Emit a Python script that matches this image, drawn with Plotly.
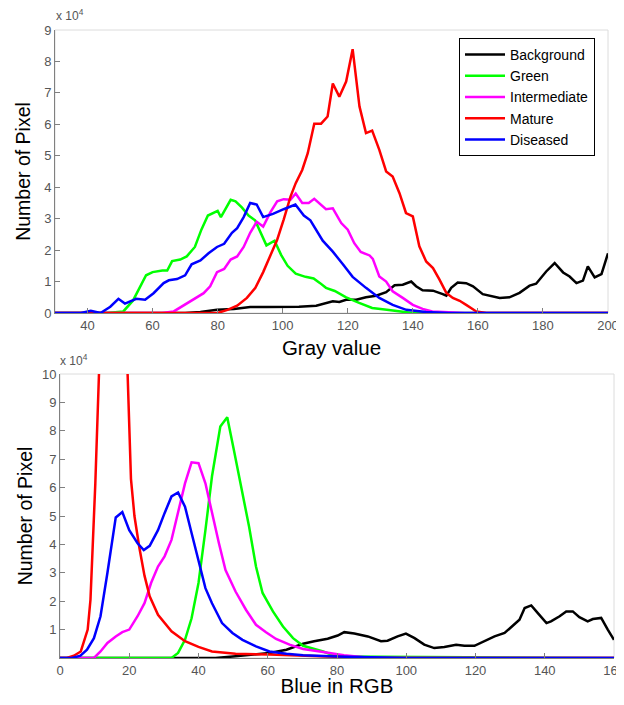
import plotly.graph_objects as go

# ---------------- Top panel: Gray value histograms (counts in units of 1e4) -------------
bg_x = [30, 70, 74.7, 79.8, 85, 90, 95, 100, 105, 110.3, 113.3, 115.4, 117.4, 119.5, 122.6, 125.6,
        128.7, 131.8, 134.4, 136.9, 139.5, 141, 143, 146.2, 149.2, 150.3, 151.8, 153.8, 156.4, 158.5,
        161.5, 164.6, 166.7, 169.7, 172.8, 175.9, 177.9, 181, 183.6, 186.2, 188.2, 190.3, 192.3,
        193.8, 195.9, 198, 200]
bg_y = [0, 0, 0.03, 0.1, 0.13, 0.19, 0.19, 0.19, 0.2, 0.23, 0.3, 0.37, 0.35, 0.42, 0.42, 0.5,
        0.55, 0.66, 0.88, 0.9, 1.0, 0.85, 0.72, 0.71, 0.6, 0.55, 0.8, 0.97, 0.95, 0.85,
        0.6, 0.53, 0.48, 0.5, 0.64, 0.87, 0.93, 1.32, 1.59, 1.29, 1.16, 0.95, 1.03,
        1.48, 1.13, 1.24, 1.9]

green_x = [30, 46, 51, 54, 58, 60, 63, 64.5, 66, 68.5, 70.5, 73, 75, 77, 80, 81, 84, 85.5, 87.5,
           89.5, 91.5, 95, 97.5, 99.5, 101.5, 104, 107, 109.5, 111.5, 113.3, 116, 119.5, 123.5,
           127.5, 132, 136, 140, 200]
green_y = [0, 0, 0.05, 0.4, 1.2, 1.3, 1.35, 1.35, 1.65, 1.7, 1.8, 2.1, 2.65, 3.1, 3.25, 3.05, 3.6,
           3.55, 3.35, 3.1, 2.95, 2.15, 2.3, 1.85, 1.5, 1.25, 1.15, 1.1, 0.95, 0.8, 0.7, 0.5, 0.32,
           0.16, 0.1, 0.05, 0, 0]

inter_x = [30, 63, 66.5, 70.6, 72.6, 75.7, 77.7, 79.8, 82, 84, 86, 88, 90, 92, 94, 96.2, 98.3,
           100.3, 102.4, 104, 106, 108, 109.7, 111.3, 113.3, 115.4, 118, 120, 122, 124, 126.7,
           127.7, 129.7, 131.8, 133.8, 136.9, 140, 143, 146, 151, 156, 200]
inter_y = [0, 0, 0.05, 0.3, 0.42, 0.63, 0.85, 1.3, 1.4, 1.7, 1.8, 2.1, 2.55, 2.9, 2.75, 3.2, 3.55,
           3.62, 3.6, 3.8, 3.5, 3.5, 3.63, 3.47, 3.3, 3.33, 2.86, 2.65, 2.22, 1.94, 1.83,
           1.72, 1.16, 1.0, 0.69, 0.48, 0.26, 0.13, 0.05, 0.02, 0, 0]

mature_x = [30, 80, 83, 86, 89, 91.6, 94, 96.2, 98.3, 100.3, 102.4, 104, 106, 107.7, 109.7, 111.8,
            113.8, 115.4, 117.4, 119.5, 121.5, 123.6, 125.6, 127.5, 129.7, 131.8, 133.8, 135.9,
            137.9, 140, 142, 144.1, 146.2, 148.2, 150.3, 152.3, 154.4, 156.4, 159.5, 162.6, 200]
mature_y = [0, 0, 0.1, 0.23, 0.48, 0.8, 1.3, 1.8, 2.33, 2.97, 3.7, 4.13, 4.55, 5.08, 6.02, 6.02,
            6.25, 7.3, 6.88, 7.36, 8.39, 6.57, 5.72, 5.8, 5.19, 4.5, 4.34, 3.81,
            3.18, 3.07, 2.12, 1.64, 1.43, 1.06, 0.64, 0.48, 0.39, 0.26, 0.05, 0, 0]

dis_x = [30, 38, 41, 44, 47, 49.5, 51.5, 55, 57.7, 60.3, 63.4, 65, 67.5, 70, 72, 74.7, 77.2, 79.8,
         82, 84.4, 86, 88, 90, 92, 94, 97, 100.3, 103.9, 106.5, 108.5, 112.3, 115.4, 118.5, 121.5,
         125.6, 129.7, 133.8, 138, 144, 151, 200]
dis_y = [0, 0, 0.07, 0, 0.2, 0.45, 0.3, 0.45, 0.42, 0.63, 0.95, 1.04, 1.08, 1.2, 1.55, 1.67, 1.9,
         2.1, 2.2, 2.55, 2.7, 3.05, 3.5, 3.45, 3.05, 3.15, 3.3, 3.45, 3.1, 2.95, 2.3, 1.95, 1.55,
         1.15, 0.8, 0.48, 0.26, 0.1, 0.03, 0, 0]

# ---------------- Bottom panel: Blue channel histograms (units of 1e4) ----------------
b_bg_x = [0, 44.9, 50.7, 60.5, 65.4, 70.2, 73.4, 77.3, 80.2, 82.1, 85, 88.9, 92.7, 94.6, 97.5,
          99.9, 102.4, 105.2, 108.1, 111, 114.4, 116.8, 119.7, 122.6, 125.5, 128.4, 131.3, 132.7,
          134.2, 136.1, 138, 140.5, 141.8, 144.3, 146.2, 148.1, 150, 152.4, 153.9, 156.3, 158.2, 160]
b_bg_y = [0, 0, 0.06, 0.18, 0.29, 0.5, 0.59, 0.68, 0.79, 0.91, 0.86, 0.76, 0.59, 0.61, 0.76,
          0.86, 0.7, 0.47, 0.35, 0.39, 0.47, 0.43, 0.43, 0.6, 0.76, 0.88, 1.21, 1.35,
          1.76, 1.85, 1.58, 1.23, 1.29, 1.47, 1.64, 1.64, 1.44, 1.29, 1.37, 1.41, 1.0, 0.64]

b_green_x = [0, 32.2, 34.1, 36.1, 38, 40, 42, 43.9, 46.3, 48.3, 50.2, 52.2, 54.6, 56.6, 58.5,
             61.5, 64.4, 67.3, 70.2, 76, 80, 160]
b_green_y = [0, 0, 0.18, 0.64, 1.4, 2.64, 4.5, 6.4, 8.15, 8.48, 7.33, 6.15, 4.63, 3.22, 2.29,
             1.64, 1.11, 0.7, 0.43, 0.23, 0.05, 0]

b_inter_x = [0, 9.8, 11.7, 13.7, 16.1, 18, 20, 22.4, 24.4, 26.3, 28.3, 30.2, 32.2, 34.1, 36.1, 38,
             40, 42, 43.9, 45.9, 47.8, 50.7, 53.7, 56.6, 59.5, 62.4, 66.3, 70.2, 76, 82, 90, 160]
b_inter_y = [0, 0, 0.23, 0.53, 0.76, 0.91, 1.0, 1.47, 1.93, 2.64, 3.22, 3.58, 4.16, 5.1, 6.15, 6.89,
             6.86, 6.15, 5.1, 4.04, 3.1, 2.34, 1.7, 1.17, 0.91, 0.67, 0.47, 0.32, 0.21, 0.1, 0, 0]

b_mature_x = [0, 2, 4, 6, 8, 8.8, 10.2, 11, 12, 14, 16, 18, 19, 20.5, 21.5, 22.9, 24.4, 25.9,
              28.3, 32.2, 36.1, 40, 43.9, 50.7, 60.5, 70, 80, 90, 160]
b_mature_y = [0, 0, 0.08, 0.23, 1.0, 2.05, 6.15, 12.5, 17, 20, 20, 17, 12, 6.3, 5.0, 3.9, 2.9, 2.17,
              1.52, 0.94, 0.59, 0.39, 0.23, 0.15, 0.12, 0.08, 0.03, 0, 0]

b_dis_x = [0, 3.4, 5.9, 7.8, 9.8, 11.7, 13.7, 16.1, 18, 20, 22.4, 24.2, 25.9, 28.3, 30.2, 32.2,
           34.1, 36.1, 38, 40, 42, 43.9, 46.8, 49.8, 52.7, 56.6, 60.5, 65.4, 70.2, 80, 100, 160]
b_dis_y = [0, 0, 0.08, 0.29, 0.7, 1.47, 3.0, 4.95, 5.14, 4.5, 4.04, 3.8, 3.95, 4.5, 5.1, 5.69,
           5.83, 5.33, 4.4, 3.46, 2.46, 1.93, 1.23, 0.88, 0.64, 0.41, 0.23, 0.15, 0.1, 0.05, 0, 0]

names = ["Background", "Green", "Intermediate", "Mature", "Diseased"]
colors = ["#000000", "#00ff00", "#ff00ff", "#ff0000", "#0000ff"]
top_series = [(bg_x, bg_y), (green_x, green_y), (inter_x, inter_y), (mature_x, mature_y), (dis_x, dis_y)]
bot_series = [(b_bg_x, b_bg_y), (b_green_x, b_green_y), (b_inter_x, b_inter_y),
              (b_mature_x, b_mature_y), (b_dis_x, b_dis_y)]

top_ticks = [40, 60, 80, 100, 120, 140, 160, 180, 200]
top_yticks = [0, 1, 2, 3, 4, 5, 6, 7, 8, 9]
bot_ticks = [0, 20, 40, 60, 80, 100, 120, 140, 160]
bot_yticks = [1, 2, 3, 4, 5, 6, 7, 8, 9, 10]
SCALE = 1e4

FONT = "Arial, 'Liberation Sans', sans-serif"
PAGE_W, PAGE_H = 624, 705
BODY = 8  # default page body margin
W, H = PAGE_W - BODY, PAGE_H - 2 * BODY

fig = go.Figure()
for (xs, ys), n, c in zip(top_series, names, colors):
    fig.add_trace(go.Scatter(x=xs, y=[v * SCALE for v in ys], mode="lines", name=n,
                             line=dict(color=c, width=2.5), xaxis="x", yaxis="y"))
for (xs, ys), n, c in zip(bot_series, names, colors):
    fig.add_trace(go.Scatter(x=xs, y=[v * SCALE for v in ys], mode="lines", name=n,
                             line=dict(color=c, width=2.5), xaxis="x2", yaxis="y2",
                             showlegend=False))

axis_common = dict(showgrid=False, zeroline=False, showline=True, linecolor="#808080",
                   linewidth=1, ticks="inside", ticklen=5, tickcolor="#808080", automargin=False,
                   ticklabeloverflow="allow",
                   tickfont=dict(family=FONT, size=13, color="#555555"))

def px_x(p):
    return (p - BODY) / W

def px_y(p):
    return 1 - (p - BODY) / H

XT = dict(family=FONT, size=20.5, color="black")
YT = dict(family=FONT, size=19.5, color="black")

fig.update_layout(
    template="none",
    width=W, height=H, autosize=False,
    margin=dict(l=0, r=0, t=0, b=0, pad=0),
    plot_bgcolor="white", paper_bgcolor="white",
    font=dict(family=FONT, color="black"),
    xaxis=dict(domain=[px_x(55), px_x(608)], range=[30, 200], tickvals=top_ticks,
               anchor="y", title=dict(text="Gray value", font=XT, standoff=9),
               **axis_common),
    yaxis=dict(domain=[px_y(313), px_y(30)], range=[0, 9 * SCALE],
               tickvals=[v * SCALE for v in top_yticks], ticktext=[str(v) for v in top_yticks],
               anchor="x", title=dict(text="Number of Pixel", font=YT, standoff=8),
               **axis_common),
    xaxis2=dict(domain=[px_x(60), px_x(614)], range=[0, 160], tickvals=bot_ticks,
                anchor="y2", title=dict(text="Blue in RGB", font=XT, standoff=12),
                **axis_common),
    yaxis2=dict(domain=[px_y(658), px_y(374)], range=[0, 10 * SCALE],
                tickvals=[v * SCALE for v in bot_yticks], ticktext=[str(v) for v in bot_yticks],
                anchor="x2", title=dict(text="Number of Pixel", font=YT, standoff=4),
                **axis_common),
    legend=dict(x=px_x(459), y=px_y(38), xanchor="left", yanchor="top",
                bgcolor="white", bordercolor="black", borderwidth=1,
                font=dict(family=FONT, size=14, color="black"),
                itemwidth=40, tracegroupgap=0),
    showlegend=True,
    shapes=[
        dict(type="rect", xref="x domain", yref="y domain", x0=0, x1=1, y0=0, y1=1,
             line=dict(color="#dcdcdc", width=1), layer="below"),
        dict(type="rect", xref="x2 domain", yref="y2 domain", x0=0, x1=1, y0=0, y1=1,
             line=dict(color="#dcdcdc", width=1), layer="below"),
    ],
    annotations=[
        dict(text="x 10<sup>4</sup>", xref="paper", yref="paper", x=px_x(54), y=px_y(25),
             xanchor="left", yanchor="bottom", showarrow=False,
             font=dict(family=FONT, size=12, color="#555555")),
        dict(text="x 10<sup>4</sup>", xref="paper", yref="paper", x=px_x(58), y=px_y(370),
             xanchor="left", yanchor="bottom", showarrow=False,
             font=dict(family=FONT, size=12, color="#555555")),
    ],
)

fig.write_html("out.html")
